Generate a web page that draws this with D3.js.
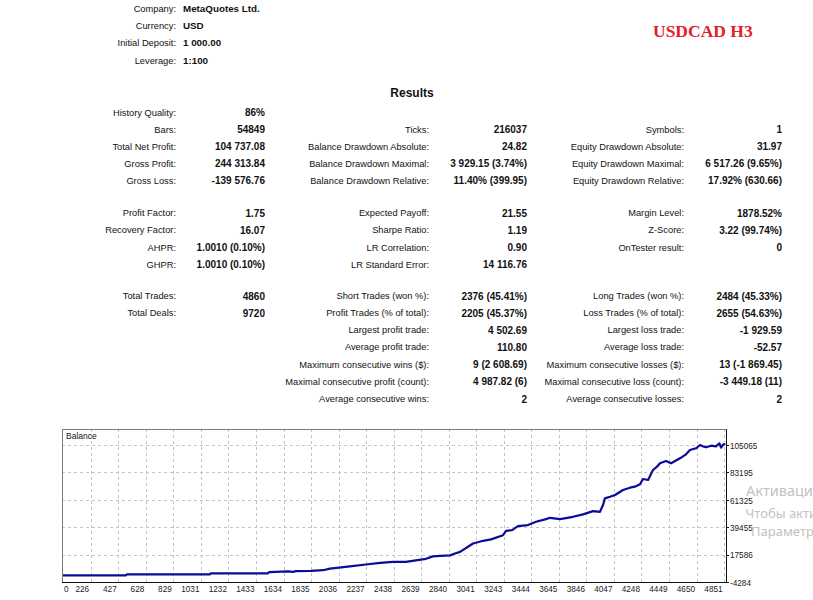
<!DOCTYPE html>
<html>
<head>
<meta charset="utf-8">
<script src="https://cdn.jsdelivr.net/npm/d3@7"></script>
<style>
  html, body { margin: 0; padding: 0; background: #fff; }
  svg { display: block; }
  text { font-family: "Liberation Sans", Arial, sans-serif; fill: #111; }
</style>
</head>
<body>
<svg id="chart" width="813" height="600"></svg>
<script>
// ---------------- DATA ----------------
const title = "USDCAD H3";
const infoLabels = ["Company:", "Currency:", "Initial Deposit:", "Leverage:"];
const infoValues = ["MetaQuotes Ltd.", "USD", "1 000.00", "1:100"];
const resultsTitle = "Results";

const col1Rows = [0, 1, 2, 3, 4, 5, 6, 7, 8, 9, 10];
const col1Labels = ["History Quality:", "Bars:", "Total Net Profit:", "Gross Profit:", "Gross Loss:",
  "Profit Factor:", "Recovery Factor:", "AHPR:", "GHPR:", "Total Trades:", "Total Deals:"];
const col1Values = ["86%", "54849", "104 737.08", "244 313.84", "-139 576.76",
  "1.75", "16.07", "1.0010 (0.10%)", "1.0010 (0.10%)", "4860", "9720"];

const col2Rows = [1, 2, 3, 4, 5, 6, 7, 8, 9, 10, 11, 12, 13, 14, 15];
const col2Labels = ["Ticks:", "Balance Drawdown Absolute:", "Balance Drawdown Maximal:", "Balance Drawdown Relative:",
  "Expected Payoff:", "Sharpe Ratio:", "LR Correlation:", "LR Standard Error:",
  "Short Trades (won %):", "Profit Trades (% of total):", "Largest profit trade:", "Average profit trade:",
  "Maximum consecutive wins ($):", "Maximal consecutive profit (count):", "Average consecutive wins:"];
const col2Values = ["216037", "24.82", "3 929.15 (3.74%)", "11.40% (399.95)",
  "21.55", "1.19", "0.90", "14 116.76",
  "2376 (45.41%)", "2205 (45.37%)", "4 502.69", "110.80",
  "9 (2 608.69)", "4 987.82 (6)", "2"];

const col3Rows = [1, 2, 3, 4, 5, 6, 7, 9, 10, 11, 12, 13, 14, 15];
const col3Labels = ["Symbols:", "Equity Drawdown Absolute:", "Equity Drawdown Maximal:", "Equity Drawdown Relative:",
  "Margin Level:", "Z-Score:", "OnTester result:",
  "Long Trades (won %):", "Loss Trades (% of total):", "Largest loss trade:", "Average loss trade:",
  "Maximum consecutive losses ($):", "Maximal consecutive loss (count):", "Average consecutive losses:"];
const col3Values = ["1", "31.97", "6 517.26 (9.65%)", "17.92% (630.66)",
  "1878.52%", "3.22 (99.74%)", "0",
  "2484 (45.33%)", "2655 (54.63%)", "-1 929.59", "-52.57",
  "13 (-1 869.45)", "-3 449.18 (11)", "2"];

// Balance curve (trade number, balance)
const trades = [0, 484, 491, 1097, 1104, 1521, 1528, 1667, 1703, 1725,
  1835, 1923, 1973, 2119, 2236, 2339, 2433, 2528, 2601, 2674,
  2725, 2777, 2850, 2886, 2923, 3018, 3091, 3149, 3237, 3259,
  3303, 3346, 3419, 3478, 3551, 3580, 3653, 3748, 3821, 3894,
  3945, 3967, 3981, 4018, 4055, 4113, 4164, 4200, 4237, 4259,
  4296, 4332, 4361, 4383, 4427, 4464, 4529, 4573, 4602, 4646,
  4675, 4699, 4719, 4756, 4792, 4817, 4829, 4846, 4860];
const balance = [1000, 1000, 1862, 1862, 2660, 2660, 3538, 4177, 3858, 4337,
  4656, 5135, 6412, 8248, 9685, 11041, 11760, 11760, 13037, 14234,
  16150, 16549, 16948, 18465, 19742, 26447, 28602, 29719, 33072, 36504,
  37143, 40256, 41134, 43768, 45923, 46960, 45843, 47759, 49674, 52308,
  51750, 57177, 62446, 63723, 65159, 69150, 70986, 71784, 73700, 77931,
  77132, 85114, 87748, 90462, 92298, 90462, 94453, 97646, 101078, 102435,
  105069, 103900, 103234, 104511, 104000, 106426, 102914, 105628, 105737];

const xTicks = [0, 226, 427, 628, 829, 1031, 1232, 1433, 1634, 1835, 2036, 2237, 2438,
  2639, 2840, 3041, 3243, 3444, 3645, 3846, 4047, 4248, 4449, 4650, 4851];
const yTicks = [-4284, 17586, 39455, 61325, 83195, 105065];
const chartLabel = "Balance";
const watermark = ["Активаци", "Чтобы акти", "Параметр"];

// ---------------- LAYOUT ----------------
const svg = d3.select("#chart");
const rowY = [112.5, 129.5, 146.5, 163.5, 180.5, 213, 230, 247.5, 264.5, 296, 313, 330, 347, 364.5, 381.5, 399];
const LABEL_FS = 9.3, VALUE_FS = 10;

const infoY = [9, 26, 43, 60.5];
const info = svg.append("g");
info.selectAll("text.l").data(infoLabels).join("text")
  .attr("x", 176).attr("y", (d, i) => infoY[i]).attr("dy", "0.35em")
  .attr("text-anchor", "end").attr("font-size", LABEL_FS).text(d => d);
info.selectAll("text.v").data(infoValues).join("text")
  .attr("x", 183).attr("y", (d, i) => infoY[i]).attr("dy", "0.35em")
  .attr("font-size", 9.8).attr("font-weight", "bold").text(d => d);

svg.append("text").attr("x", 653).attr("y", 31).attr("dy", "0.35em")
  .style("font-family", "'Liberation Serif', 'Times New Roman', serif")
  .style("fill", "#e0202b").attr("font-size", 17.5).attr("font-weight", "bold").text(title);

svg.append("text").attr("x", 412).attr("y", 93).attr("dy", "0.35em").attr("text-anchor", "middle")
  .attr("font-size", 12).attr("font-weight", "bold").text(resultsTitle);

function column(rows, labels, values, labelX, valueX) {
  const g = svg.append("g");
  g.selectAll("text.l").data(labels).join("text")
    .attr("x", labelX).attr("y", (d, i) => rowY[rows[i]]).attr("dy", "0.35em")
    .attr("text-anchor", "end").attr("font-size", LABEL_FS).text(d => d);
  g.selectAll("text.v").data(values).join("text")
    .attr("x", valueX).attr("y", (d, i) => rowY[rows[i]]).attr("dy", "0.35em")
    .attr("text-anchor", "end").attr("font-size", VALUE_FS).attr("font-weight", "bold").text(d => d);
}
column(col1Rows, col1Labels, col1Values, 176, 265);
column(col2Rows, col2Labels, col2Values, 429, 527);
column(col3Rows, col3Labels, col3Values, 684, 782);

// ---------------- CHART ----------------
const L = 62, R = 726, T = 429, B = 582;
const x = d3.scaleLinear().domain([0, 4860]).range([59.75, 725.3]);
const y = d3.scaleLinear().domain([-4284, 105065]).range([B, 445]);

const chart = svg.append("g");
chart.append("defs").append("clipPath").attr("id", "clip")
  .append("rect").attr("x", L).attr("y", T).attr("width", R - L).attr("height", B - T);

chart.append("g").selectAll("line").data(yTicks.slice(1)).join("line")
  .attr("x1", L).attr("x2", R).attr("y1", d => Math.round(y(d)) + 0.5).attr("y2", d => Math.round(y(d)) + 0.5)
  .attr("stroke", "#c4c4c4").attr("stroke-dasharray", "3,3");
chart.append("g").selectAll("line").data(xTicks.slice(1)).join("line")
  .attr("y1", T).attr("y2", B).attr("x1", d => Math.round(x(d)) + 0.5).attr("x2", d => Math.round(x(d)) + 0.5)
  .attr("stroke", "#c4c4c4").attr("stroke-dasharray", "3,3");

const line = d3.line().x((d, i) => x(trades[i])).y((d, i) => y(balance[i]));
chart.append("path").datum(balance).attr("clip-path", "url(#clip)")
  .attr("d", line).attr("fill", "none").attr("stroke", "#0b0b96").attr("stroke-width", 2.2)
  .attr("stroke-linejoin", "round");

chart.append("line").attr("x1", L + 0.5).attr("x2", L + 0.5).attr("y1", T).attr("y2", B).attr("stroke", "#7a7a7a");
chart.append("line").attr("x1", L).attr("x2", R).attr("y1", T + 0.5).attr("y2", T + 0.5).attr("stroke", "#7a7a7a");
chart.append("line").attr("x1", R + 0.5).attr("x2", R + 0.5).attr("y1", T).attr("y2", B + 1).attr("stroke", "#111");
chart.append("line").attr("x1", L).attr("x2", R + 1).attr("y1", B + 0.5).attr("y2", B + 0.5).attr("stroke", "#111");

chart.append("g").selectAll("line").data(yTicks).join("line")
  .attr("x1", R).attr("x2", R + 3).attr("y1", d => Math.round(y(d)) + 0.5).attr("y2", d => Math.round(y(d)) + 0.5)
  .attr("stroke", "#111");
chart.append("g").selectAll("text").data(yTicks).join("text")
  .attr("x", R + 4).attr("y", d => y(d) + 1).attr("dy", "0.35em")
  .attr("font-size", 8.2).style("fill", "#222").text(d => d);

chart.append("g").selectAll("text").data(xTicks).join("text")
  .attr("x", d => Math.max(x(d) - 1.5, L + 6.5)).attr("y", 589.5).attr("dy", "0.35em")
  .attr("text-anchor", "end").attr("font-size", 8.2).style("fill", "#222").text(d => d);

chart.append("text").attr("x", 66).attr("y", 436.5).attr("dy", "0.35em")
  .attr("font-size", 8.5).text(chartLabel);

// activation watermark (cut at the window edge, as in the reference)
svg.append("g").selectAll("text").data(watermark).join("text")
  .attr("x", (d, i) => [746, 745.5, 751][i]).attr("y", (d, i) => [491, 513.5, 531.5][i]).attr("dy", "0.35em")
  .attr("font-size", (d, i) => [14.5, 13, 13][i]).style("fill", "#c2c2c2")
  .style("font-family", "'Noto Sans', 'Open Sans', sans-serif").text(d => d);
</script>
</body>
</html>
